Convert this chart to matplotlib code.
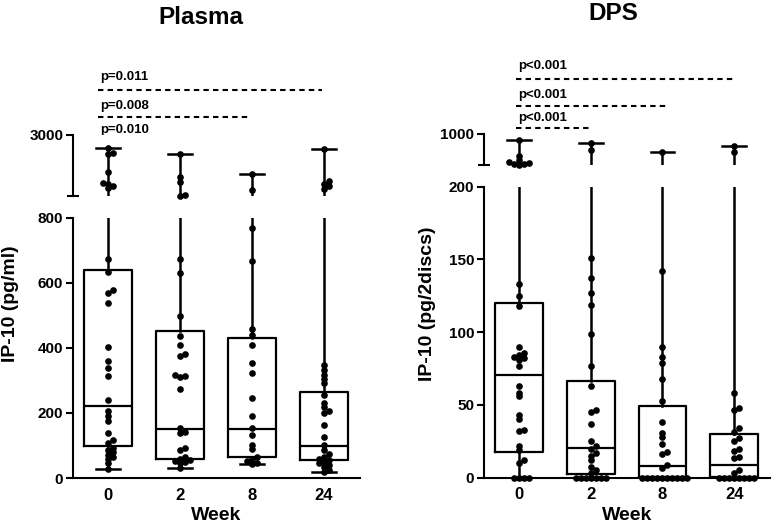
import numpy as np
import matplotlib.pyplot as plt
from matplotlib.transforms import blended_transform_factory

plt.rcParams['font.family'] = ['Liberation Sans', 'DejaVu Sans']
plt.rcParams['font.weight'] = 'bold'

weeks = ['0', '2', '8', '24']

# box stats: min, q1, median, q3, max
plasma_min = [28, 31, 44, 20]
plasma_q1 = [99, 59, 66, 56]
plasma_med = [223, 152, 152, 99]
plasma_q3 = [641, 451, 431, 266]
plasma_max = [2520, 2330, 1580, 2500]

plasma_w0 = [2520, 2360, 2300, 1680, 1270, 1230, 1150, 1100,
             674, 633, 579, 569, 538, 402, 359, 338, 315, 239, 205, 190, 174,
             140, 118, 108, 92, 85, 80, 72, 66, 60, 46, 28]
plasma_w2 = [2330, 1500, 1320, 830, 815,
             674, 631, 497, 436, 410, 382, 376, 318, 314, 310, 274, 154, 143,
             138, 92, 87, 66, 60, 56, 52, 48, 46, 31]
plasma_w8 = [1580, 1020,
             769, 667, 458, 441, 410, 354, 323, 246, 192, 154, 133, 102, 89,
             66, 60, 52, 46, 44]
plasma_w24 = [2500, 1350, 1250, 1150, 1050,
              349, 333, 318, 305, 292, 256, 231, 220, 205, 200, 162, 126, 102,
              87, 75, 66, 60, 55, 50, 45, 40, 35, 26, 20]

dps_min = [0, 0, 0, 0]
dps_q1 = [17.5, 2.3, 0.5, 0.3]
dps_med = [70.5, 20.2, 8, 8.7]
dps_q3 = [120, 66.5, 49.3, 29.8]
dps_max = [848, 764, 543, 688]

dps_w0 = [848, 450, 340, 300, 270, 250, 230, 215,
          133, 125, 118, 90, 86, 84, 83, 82, 81, 77, 63, 58.5, 56, 43, 40, 33,
          32, 22, 19, 12, 10, 0, 0, 0, 0]
dps_w2 = [764, 600,
          151, 137, 127, 119, 99, 77, 63, 46.6, 45, 37, 25, 22, 20, 17, 15, 12,
          7.5, 5, 3, 0, 0, 0, 0, 0, 0, 0]
dps_w8 = [543,
          142, 90, 83, 79, 68, 53, 38, 30.5, 28, 23, 17.5, 16, 9, 7,
          0, 0, 0, 0, 0, 0, 0, 0, 0, 0]
dps_w24 = [688, 550,
           58, 48, 46.6, 34, 31.7, 27, 25.5, 19.5, 18.4, 14.5, 13.4, 5.3, 3.4,
           0, 0, 0, 0, 0, 0, 0, 0]

plasma_p = ['p=0.010', 'p=0.008', 'p=0.011']
dps_p = ['p<0.001', 'p<0.001', 'p<0.001']

W, H = 774, 527
fig = plt.figure(figsize=(W / 100, H / 100), dpi=100)


def rect(x0, x1, ytop, ybot):
    return [x0 / W, 1 - ybot / H, (x1 - x0) / W, (ybot - ytop) / H]


def swarm(ax, vals, xc, d=5.0):
    # simple beeswarm in pixel space, dots may overlap a little
    tr = ax.transData
    pxu = tr.transform((1, 0))[0] - tr.transform((0, 0))[0]
    ys = tr.transform(np.column_stack([np.zeros(len(vals)), vals]))[:, 1]
    order = np.argsort(ys)
    placed = []
    xs = np.zeros(len(vals))
    for i in order:
        y = ys[i]
        for k in [0, 1, -1, 2, -2, 3, -3, 4, -4, 5, -5, 6, -6]:
            x = k * d
            if all((x - px) ** 2 + (y - py) ** 2 >= (d * 0.7) ** 2 for px, py in placed):
                break
        placed.append((x, y))
        xs[i] = xc + x / pxu
    return xs


def panel(low_r, up_r, low_lim, up_lim, low_ticks, up_lab,
          mins, q1s, meds, q3s, maxs, groups, ylabel, ylab_x, title, title_x, title_y,
          plabels, p_x0, p_ends, p_line_y, p_text_y):
    axl = fig.add_axes(low_r)
    axu = fig.add_axes(up_r)
    stats = [dict(med=meds[i], q1=q1s[i], q3=q3s[i], whislo=mins[i], whishi=maxs[i])
             for i in range(4)]
    for ax in (axl, axu):
        ax.bxp(stats, positions=range(4), widths=0.667, capwidths=0.33,
               showfliers=False,
               boxprops=dict(color='black', lw=1.6),
               medianprops=dict(color='black', lw=1.6),
               whiskerprops=dict(color='black', lw=1.8),
               capprops=dict(color='black', lw=1.8))
        ax.set_xlim(-0.49, 3.5)
        for s in ('top', 'right'):
            ax.spines[s].set_visible(False)
        ax.spines['left'].set_linewidth(1.5)
        ax.spines['bottom'].set_linewidth(1.5)
    axl.set_ylim(*low_lim)
    axu.set_ylim(*up_lim)
    axl.set_yticks(low_ticks)
    axl.tick_params(axis='y', length=5, width=1.5, labelsize=11, pad=2)
    axl.set_xticks(range(4))
    axl.set_xticklabels(weeks)
    axl.tick_params(axis='x', length=0, labelsize=12, pad=7)
    axl.set_xlabel('Week', fontsize=14, fontweight='bold', labelpad=3)
    axu.spines['bottom'].set_visible(False)
    axu.set_xticks([])
    axu.set_yticks([up_lim[1]])
    axu.set_yticklabels([up_lab])
    axu.set_yticks([up_lim[0]], minor=True)
    axu.tick_params(axis='y', length=5, width=1.5, labelsize=11, pad=2)
    axu.tick_params(axis='y', which='minor', direction='inout', length=9, width=1.5)

    for i, vals in enumerate(groups):
        vals = np.array(vals, dtype=float)
        lo = vals[vals <= low_lim[1]]
        hi = vals[vals > low_lim[1]]
        if len(lo):
            axl.plot(swarm(axl, lo, i), lo, 'o', color='black', ms=4.8, mew=0,
                     clip_on=False, zorder=4)
        if len(hi):
            axu.plot(swarm(axu, hi, i), hi, 'o', color='black', ms=4.8, mew=0,
                     clip_on=False, zorder=4)

    fig.text(ylab_x / W, 1 - 304 / H, ylabel, rotation=90, ha='center', va='center',
             fontsize=14, fontweight='bold')
    fig.text(title_x / W, 1 - title_y / H, title, ha='center', va='center',
             fontsize=17.5, fontweight='bold')

    tr = blended_transform_factory(axl.transData, fig.transFigure)
    for lab, xe, ly, ty in zip(plabels, p_ends, p_line_y, p_text_y):
        axl.plot([p_x0, xe], [1 - ly / H] * 2, transform=tr, color='black', lw=1.5,
                 ls=(0, (2.6, 2.0)), clip_on=False)
        axl.text(p_x0 + 0.03, 1 - ty / H, lab, transform=tr, ha='left', va='center',
                 fontsize=9.5, fontweight='bold')


panel(rect(73, 360, 218, 478), rect(73, 360, 135, 196), (0, 800), (800, 3000),
      [0, 200, 400, 600, 800], '3000',
      plasma_min, plasma_q1, plasma_med, plasma_q3, plasma_max,
      [plasma_w0, plasma_w2, plasma_w8, plasma_w24],
      'IP-10 (pg/ml)', 11, 'Plasma', 201, 18,
      plasma_p, -0.14, [0.96, 1.96, 2.97], [139.5, 117.3, 90.3], [130, 106, 77])

panel(rect(484, 770, 186.7, 477.7), rect(484, 770, 134, 165.5), (0, 200), (200, 1000),
      [0, 50, 100, 150, 200], '1000',
      dps_min, dps_q1, dps_med, dps_q3, dps_max,
      [dps_w0, dps_w2, dps_w8, dps_w24],
      'IP-10 (pg/2discs)', 428, 'DPS', 613, 13,
      dps_p, -0.05, [0.97, 2.05, 3.03], [128.3, 106, 79.3], [118, 95, 65.7])

fig.savefig('out.png', dpi=100)
